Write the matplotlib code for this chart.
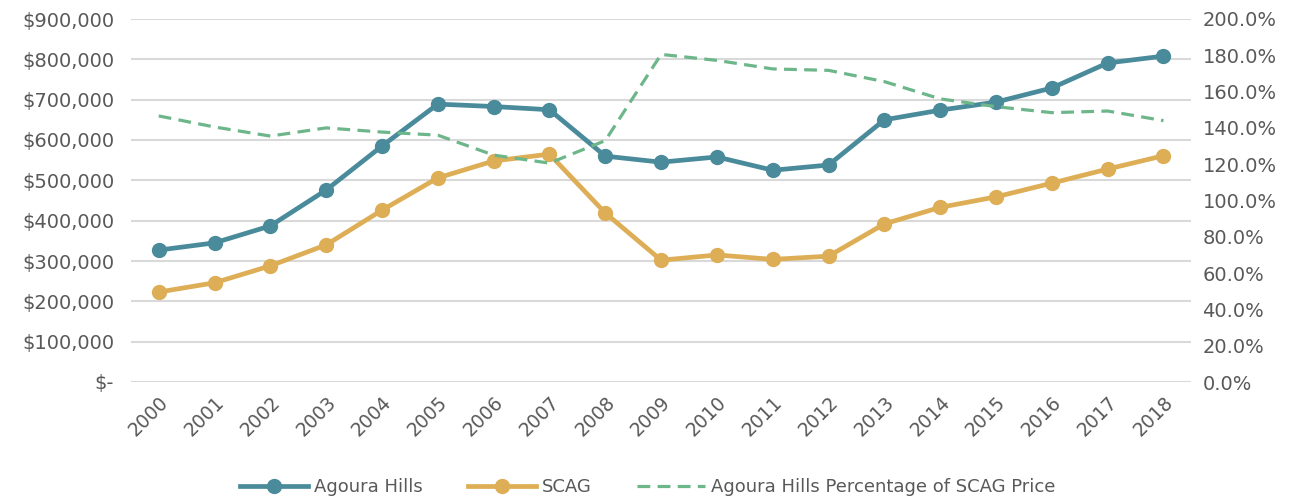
import matplotlib.pyplot as plt
import numpy as np

years = [str(y) for y in range(2000, 2019)]

agoura = [327000, 345000, 387000, 476000, 585000, 689000, 683000, 675000, 560000, 545000,
          558000, 525000, 538000, 650000, 674000, 694000, 729000, 791000, 808000]

scag = [223000, 246000, 288000, 340000, 426000, 506000, 548000, 565000, 419000, 302000,
        315000, 304000, 312000, 392000, 433000, 459000, 493000, 528000, 561000]

pct = [146.6, 140.5, 135.5, 140.0, 137.7, 136.0, 125.0, 120.6, 133.0, 180.5,
       177.2, 172.5, 171.7, 165.5, 156.0, 151.7, 148.4, 149.3, 144.0]

teal = '#4A8B9B'
gold = '#DDAE55'
green = '#6DB68A'
grey = '#595959'

plt.rcParams['font.family'] = ['DejaVu Sans']

fig = plt.figure(figsize=(12.95, 5), dpi=100)
ax = fig.add_axes([0.101, 0.236, 0.819, 0.726])
ax2 = ax.twinx()

x = np.arange(len(years))

l1, = ax.plot(x, agoura, color=teal, lw=3.4, marker='o', ms=10, label='Agoura Hills', zorder=3)
l2, = ax.plot(x, scag, color=gold, lw=3.4, marker='o', ms=10, label='SCAG', zorder=3)
l3, = ax2.plot(x, pct, color=green, lw=2.3, ls=(0, (4, 2.3)), label='Agoura Hills Percentage of SCAG Price')

ax.set_ylim(0, 900000)
ax.set_yticks(np.arange(0, 900001, 100000))
ax.set_yticklabels(['$-'] + ['${:,.0f}'.format(v) for v in np.arange(100000, 900001, 100000)])
ax2.set_ylim(0, 200)
ax2.set_yticks(np.arange(0, 201, 20))
ax2.set_yticklabels(['{:.1f}%'.format(v) for v in np.arange(0, 201, 20)])

ax.set_xlim(-0.5, 18.5)
ax.set_xticks(x)
ax.set_xticklabels(years, rotation=45, ha='right', rotation_mode='anchor')

ax.grid(axis='y', color='#D9D9D9', lw=1.5)
ax.set_axisbelow(True)
for a in (ax, ax2):
    for s in a.spines.values():
        s.set_visible(False)
    a.tick_params(length=0, labelsize=14, colors=grey)
ax.tick_params(axis='y', pad=12)
ax.tick_params(axis='x', pad=8, labelsize=13.5)
ax2.tick_params(axis='y', pad=8)

fig.legend(handles=[l1, l2, l3], loc='lower center', bbox_to_anchor=(0.5, -0.025), ncol=3,
           frameon=False, fontsize=13, labelcolor=grey, handlelength=3.8, columnspacing=2.5,
           handletextpad=0.3)

fig.savefig('out.png', dpi=100)
